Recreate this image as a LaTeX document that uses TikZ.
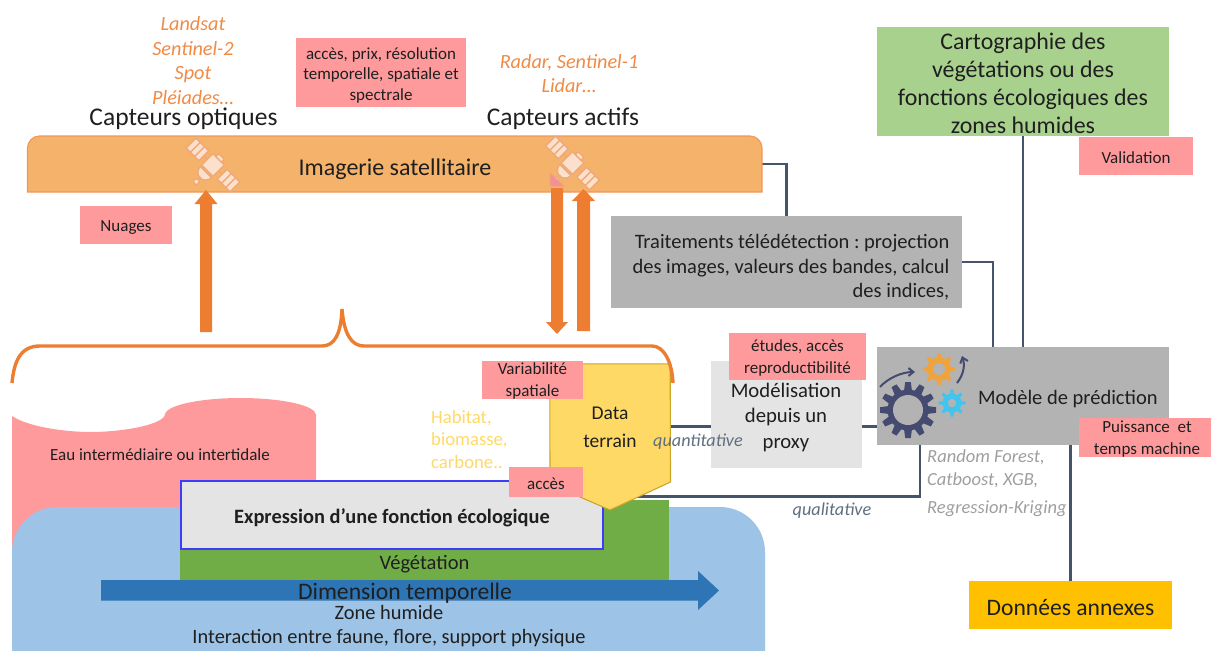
\documentclass[tikz,border=0pt]{standalone}
\usepackage{fontspec}
\setmainfont{Carlito}
\usetikzlibrary{calc,arrows.meta}
\definecolor{pinkbox}{HTML}{FF9A9C}
\definecolor{greybox}{HTML}{B3B3B3}
\definecolor{lightbox}{HTML}{E4E4E4}
\definecolor{orangeline}{HTML}{ED7D31}
\definecolor{orangetext}{HTML}{F08A45}
\definecolor{bandfill}{HTML}{F5B26B}
\definecolor{slateline}{HTML}{44546A}
\definecolor{wetblue}{HTML}{9DC3E6}
\definecolor{vegreen}{HTML}{70AD47}
\definecolor{lightgreen}{HTML}{A9D18E}
\definecolor{datayellow}{HTML}{FFD966}
\definecolor{dataedge}{HTML}{CDA52B}
\definecolor{timeblue}{HTML}{2E75B6}
\definecolor{gold}{HTML}{FFC000}
\definecolor{gearnavy}{HTML}{444A70}
\definecolor{gearorange}{HTML}{EEA33C}
\definecolor{gearblue}{HTML}{41C4EE}
\definecolor{satfill}{HTML}{FCE0CB}
\definecolor{satedge}{HTML}{EFA878}
\newcommand{\fsz}[2]{\fontsize{#1}{#2}\selectfont}
\frenchspacing
\tikzset{
  plainbox/.style={rectangle,inner sep=0pt,align=center,text=black!88},
  pinklabel/.style={plainbox,fill=pinkbox},
  pinktext/.style={plainbox,font=\fsz{17}{22.5}},
  link/.style={draw=slateline,line width=2.3pt},
  sensor/.style={plainbox,font=\fsz{25.5}{28}},
  orangeitalic/.style={plainbox,text=orangetext,font=\fsz{20.2}{24.5}\itshape},
  thickarrow/.style={fill=orangeline,draw=none}
}
\newcommand{\gearicon}[7]{% x y outer inner hole teeth colour
  \begin{scope}[shift={(#1,#2)}]
    \fill[#7] (0,0) circle[radius=#4];
    \foreach \a in {1,...,#6}{
      \begin{scope}[rotate=\a*360/#6]
        \fill[#7] (#4-1,-#3*0.14) -- (#3,-#3*0.10) -- (#3,#3*0.10) -- (#4-1,#3*0.14) -- cycle;
      \end{scope}
    }
    \fill[greybox] (0,0) circle[radius=#5];
  \end{scope}
}
\newcommand{\satellite}[2]{%
  \begin{scope}[shift={(#1,#2)},rotate=-45,draw=satedge,fill=satfill,line width=1.3pt,line join=round]
    % body
    \filldraw (-8,-8) rectangle (8,8);
    \filldraw (-4,-12) rectangle (4,-8);
    % panels
    \filldraw (-13,-7) -- (-31,-7) -- (-31,7) -- (-13,7) -- cycle;
    \filldraw (13,-7) -- (31,-7) -- (31,7) -- (13,7) -- cycle;
    \draw (-8,0) -- (-13,0) (8,0) -- (13,0);
    \foreach \s in {-1,1}{
      \draw (\s*19,-7) -- (\s*19,7) (\s*25,-7) -- (\s*25,7);
    }
    % dish
    \filldraw (-8,10) .. controls (-7,21) and (7,21) .. (8,10) -- cycle;
    \draw (0,17) -- (0,21);
    \filldraw (0,23.5) circle[radius=2.8];
  \end{scope}
}
\begin{document}
\begin{tikzpicture}[x=1pt,y=-1pt]
\useasboundingbox (0,0) rectangle (1211,651);
\begin{scope}
\clip (0,0) rectangle (1211,651);

% water layers
\fill[pinkbox] (12,416) .. controls (30,428) and (70,432) .. (90,432)
  .. controls (125,432) and (165,424) .. (165,414)
  .. controls (168,404) and (205,398) .. (240,398)
  .. controls (280,398) and (316,405) .. (316,415)
  -- (316,560) -- (12,560) -- cycle;
\fill[wetblue] (12,680) -- (12,552) arc[start angle=180,end angle=270,radius=45]
  -- (720,507) arc[start angle=-90,end angle=0,radius=45] -- (765,680) -- cycle;
\node[plainbox,font=\fsz{17}{20}] (eau) at (160,455) {Eau intermédiaire ou intertidale};

% vegetation and function
\node[rectangle,fill=vegreen,minimum width=489,minimum height=80,inner sep=0pt] (veg) at (424.5,540) {};
\node[plainbox,font=\fsz{20.5}{22}] (vegt) at (424.5,564) {Végétation};
\node[plainbox,fill=lightbox,draw={rgb,255:red,60;green,60;blue,250},line width=1.2pt,minimum width=422,minimum height=68] (expr) at (392,515) {};
\node[plainbox,font=\fsz{20.4}{22}\bfseries] (exprt) at (392,518) {Expression d’une fonction écologique};

% time arrow
\fill[timeblue] (101,580) -- (698,580) -- (698,571) -- (719,590.5) -- (698,610) -- (698,600.5) -- (101,600.5) -- cycle;
\node[plainbox,font=\fsz{23.7}{26}] (temps) at (405,593) {Dimension temporelle};
\node[plainbox,font=\fsz{20.4}{24}] (zone) at (389,626.5) {Zone humide\\Interaction entre faune, flore, support physique};
\end{scope}

% connectors
\node[plainbox,minimum width=735,minimum height=0pt] (imgc) at (394.5,164) {};
\node[plainbox,fill=greybox,minimum width=351,minimum height=92] (trait) at (786.5,262) {};
\node[plainbox,fill=lightgreen,minimum width=292,minimum height=109] (carto) at (1023,81.5) {};
\node[plainbox,font=\fsz{23.9}{28}] (cartot) at (1023,83) {Cartographie des\\végétations ou des\\fonctions écologiques des\\zones humides};
\node[plainbox,fill=greybox,minimum width=292,minimum height=98] (model) at (1023,396) {};
\node[plainbox,fill=gold,minimum width=203,minimum height=48] (annex) at (1070.5,605) {};
\node[plainbox,font=\fsz{23.6}{26}] (annext) at (1070.5,607.5) {Données annexes};
\node[plainbox,fill=lightbox,minimum width=151,minimum height=107] (proxy) at (786.5,414.5) {};
\node[plainbox,font=\fsz{20.7}{25.5}] (proxyt) at (786,417) {Modélisation\\depuis un\\proxy};
\node[plainbox,minimum width=120,minimum height=118] (data) at (610,423) {};
\coordinate (trtin) at ($(model.north west)+(116,0)$);
\coordinate (qualin) at ($(model.south west)+(43,0)$);
\coordinate (annexout) at (annex.north);
\coordinate (qualout) at (633,496.5);
\coordinate (dq) at (671,426.5);

\draw[link] (imgc.east) -| (trait.north);
\draw[link] (trait.east) -| (trtin);
\draw[link] (carto.south) -- (model.north);
\draw[link] (dq) -- (dq -| proxy.west);
\draw[link] (dq -| proxy.east) -- (dq -| model.west);
\draw[link] (qualout) -| (qualin);
\draw[link] (annexout) -- (annexout |- model.south);
\node[plainbox,font=\fsz{20.5}{24.5},align=right,anchor=east] (traitt) at (949.5,267.5) {Traitements télédétection : projection\\des images, valeurs des bandes, calcul\\des indices,};

% satellite band
\path[fill=bandfill,draw=orangeline!80,line width=1.1pt] (27.5,192) -- (27.5,148)
  arc[start angle=180,end angle=270,radius=12] -- (750,136)
  arc[start angle=-90,end angle=0,radius=12] -- (762,192) -- cycle;
\node[plainbox,font=\fsz{24}{28}] (imgt) at (395,169) {Imagerie satellitaire};
\satellite{213}{165}
\satellite{572.5}{163}
\filldraw[fill=pinkbox!75!purple!80!white,draw=orangeline!70,line width=1pt] (550,173) -- (550,186) -- (564,186) -- cycle;

% arrows
\fill[thickarrow] (200,332) -- (200,204) -- (194.5,204) -- (206,190) -- (217.5,204) -- (212,204) -- (212,332) -- cycle;
\fill[thickarrow] (577,331) -- (577,201) -- (572,201) -- (583.5,189) -- (595,201) -- (590,201) -- (590,331) -- cycle;
\fill[thickarrow] (551,188) -- (563,188) -- (563,322) -- (568,322) -- (557,334) -- (546,322) -- (551,322) -- cycle;

% data terrain pentagon
\filldraw[fill=datayellow,draw=dataedge,line width=1.1pt] (data.north west) -- (data.north east) -- (670.5,482) -- (610,510) -- (550,484) -- cycle;
\node[plainbox,font=\fsz{19.5}{28}] (datat) at (610,427.5) {Data\\terrain};

% brace
\draw[orangeline,line width=3.4pt] (12,383) .. controls (14,362) and (20,346) .. (40,346)
  -- (322,346) .. controls (334,346) and (341,335) .. (342,309)
  .. controls (344,335) and (352,346) .. (364,346)
  -- (652,346) .. controls (664,346) and (672,362) .. (673,383);

% texts
\node[orangeitalic] (optsat) at (193,60.5) {Landsat\\Sentinel-2\\Spot\\Pléiades…};
\node[orangeitalic] (actsat) at (569,73.5) {Radar, Sentinel-1\\Lidar…};
\node[sensor] (opt) at (183.5,119) {Capteurs optiques};
\node[sensor] (act) at (563,119) {Capteurs actifs};
\node[plainbox,text=datayellow,font=\fsz{18.7}{22.5},align=left,anchor=west] (hab) at (431,439.5) {Habitat,\\biomasse,\\carbone..};
\node[plainbox,text=slateline!85,font=\fsz{18.2}{18}\itshape] (qt) at (698,442) {quantitative};
\node[plainbox,text=slateline!85,font=\fsz{18.2}{18}\itshape] (ql) at (832,511) {qualitative};
\node[plainbox,text=black!38,font=\fsz{18.5}{23.5}\itshape,align=left,anchor=north west] (algo) at (927,449) {Random Forest,\\Catboost, XGB,\\[4pt]Regression-Kriging};

% pink labels
\node[pinklabel,minimum width=170,minimum height=69] (acces1) at (381,72.5) {};
\node[pinktext,font=\fsz{17}{20.5}] (acces1t) at (381,75) {accès, prix, résolution\\temporelle, spatiale et\\spectrale};
\node[pinklabel,minimum width=92,minimum height=38] (nuages) at (126,225) {};
\node[pinktext] (nuagest) at (126,228) {Nuages};
\node[pinklabel,minimum width=114,minimum height=38] (valid) at (1136,156) {};
\node[pinktext] (validt) at (1136,158) {Validation};
\node[pinklabel,minimum width=101,minimum height=38] (varia) at (532.5,380) {};
\node[pinktext] (variat) at (532.5,381) {Variabilité\\spatiale};
\node[pinklabel,minimum width=74,minimum height=30] (acces2) at (546,482) {};
\node[pinktext] (acces2t) at (546,484) {accès};
\node[pinklabel,minimum width=137,minimum height=47] (etudes) at (797.5,356.5) {};
\node[pinktext] (etudest) at (797.5,358) {études, accès\\reproductibilité};
\node[pinklabel,minimum width=132,minimum height=39] (puiss) at (1145,437.5) {};
\node[pinktext,font=\fsz{17}{21.5}] (puisst) at (1147,439) {Puissance\ \ et\\temps machine};

% model icon
\gearicon{908}{410}{28}{20.5}{15}{12}{gearnavy}
\gearicon{939}{369}{16}{12}{6}{8}{gearorange}
\gearicon{952}{403}{13.5}{9.5}{4.2}{8}{gearblue}
\draw[gearnavy,line width=2pt,-{Straight Barb[length=5pt,width=8pt]}] (880,387) .. controls (888,378) and (902,372) .. (915,372);
\draw[gearnavy,line width=2pt,-{Straight Barb[length=5pt,width=8pt]}] (957,383) .. controls (964,374) and (965,365) .. (962,356);
\node[plainbox,font=\fsz{20.5}{24},anchor=west] (modelt) at (978,399) {Modèle de prédiction};
\end{tikzpicture}
\end{document}
